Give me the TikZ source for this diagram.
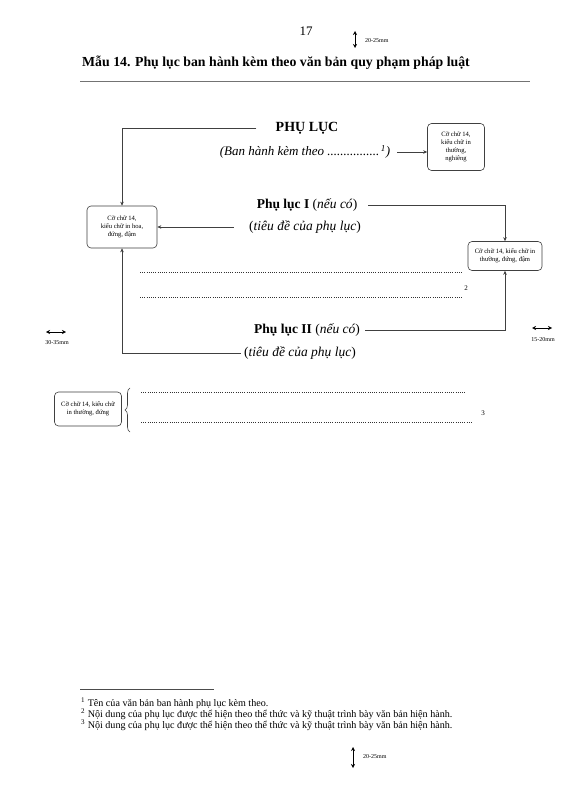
\documentclass[tikz,border=0pt]{standalone}
\usepackage{fontspec}
\setmainfont{Liberation Serif}
\usetikzlibrary{arrows.meta,decorations.pathreplacing}
\begin{document}
\begin{tikzpicture}[x=1pt,y=-1pt,
  ln/.style={draw=black!75,line width=0.6pt},
  arr/.style={ln,-{Stealth[length=4pt,width=3.5pt]}},
  dim/.style={draw=black,line width=0.5pt,{Stealth[length=4pt,width=4pt]}-{Stealth[length=4pt,width=4pt]}},
  dimlbl/.style={font=\fontsize{6}{7}\selectfont,inner sep=0pt},
  cbox/.style={draw=black!75,line width=0.6pt,rounded corners=4pt,align=center,
    font=\fontsize{6.6}{7.8}\selectfont,inner sep=1pt},
  head/.style={font=\fontsize{13.5}{16}\selectfont,inner sep=1pt},
  dots/.style={draw=black!80,line width=0.7pt,dash pattern=on 0.7pt off 1.5pt},
  fn/.style={font=\fontsize{10.1}{11}\selectfont,inner sep=0pt,anchor=west}
]
\useasboundingbox (0,0) rectangle (569,799);
\fill[white] (0,0) rectangle (569,799);

% page number and top margin marker
\node[font=\fontsize{13}{15}\selectfont,inner sep=0pt] (pn) at (306,31) {17};
\coordinate (ta) at (355,31); \coordinate (tb) at (355,48);
\draw[dim] (ta) -- (tb);
\node[dimlbl,anchor=west] (tl) at (365,41) {20-25mm};

% title
\node[font=\bfseries\fontsize{13.8}{16}\selectfont,anchor=west,inner sep=0pt] (title) at (82,63)
  {Mẫu 14. Phụ lục ban hành kèm theo văn bản quy phạm pháp luật};
\coordinate (r1) at (80,81); \coordinate (r2) at (530,81);
\draw[draw=black!55,line width=0.8pt] (r1) -- (r2);

% headings
\node[head,font=\bfseries\fontsize{14}{16}\selectfont] (plc) at (307,128) {PHỤ LỤC};
\node[head,font=\itshape\fontsize{13}{16}\selectfont] (ban) at (305,152)
  {(Ban hành kèm theo ................\textsuperscript{\,1})};
\node[head] (pl1) at (307,205) {\textbf{Phụ lục I} (\textit{nếu có})};
\node[head] (td1) at (305,227) {(\textit{tiêu đề của phụ lục})};
\node[head] (pl2) at (307,330) {\textbf{Phụ lục II} (\textit{nếu có})};
\node[head] (td2) at (300,353) {(\textit{tiêu đề của phụ lục})};

% boxes
\node[cbox,minimum width=57pt,minimum height=47pt] (b1) at (456,147)
  {Cỡ chữ 14,\\kiểu chữ in\\thường,\\nghiêng};
\node[cbox,minimum width=70pt,minimum height=42pt] (b2) at (122,227)
  {Cỡ chữ 14,\\kiểu chữ in hoa,\\đứng, đậm};
\node[cbox,minimum width=74pt,minimum height=29pt] (b3) at (505,256)
  {Cỡ chữ 14, kiểu chữ in\\thường, đứng, đậm};
\node[cbox,minimum width=67pt,minimum height=34pt] (b4) at (88,409)
  {Cỡ chữ 14, kiểu chữ\\in thường, đứng};

% connectors
\draw[arr] ([xshift=-18pt]plc.west) -| (b2.north);
\draw[arr] ([xshift=6pt]ban.east) -- (ban.east -| b1.west);
\draw[arr] ([xshift=10pt]pl1.east) -| (b3.north);
\draw[arr] ([xshift=-14pt]td1.west) -- (b2.east);
\draw[arr] ([xshift=4pt]pl2.east) -| (b3.south);
\draw[arr] ([xshift=-2pt]td2.west) -| (b2.south);

% dotted content lines
\coordinate (d1a) at (140,272); \coordinate (d1b) at (462,272);
\coordinate (d2a) at (140,297); \coordinate (d2b) at (462,297);
\draw[dots] (d1a) -- (d1b);
\draw[dots] (d2a) -- (d2b);
\node[font=\fontsize{7}{8}\selectfont,inner sep=0pt] (n2) at (466,288) {2};

% side margin markers
\coordinate (la) at (46,332); \coordinate (lb) at (66,332);
\draw[dim] (la) -- (lb);
\node[dimlbl] (ll) at (57,343) {30-35mm};
\coordinate (ra) at (532,328); \coordinate (rb) at (552,328);
\draw[dim] (ra) -- (rb);
\node[dimlbl] (rl) at (543,340) {15-20mm};

% bottom block with brace
\coordinate (bra) at (130,432); \coordinate (brb) at (130,388);
\draw[draw=black!75,line width=0.6pt,decorate,decoration={brace,amplitude=5pt}] (bra) -- (brb);
\coordinate (d3a) at (141,392); \coordinate (d3b) at (466,392);
\coordinate (d4a) at (141,422); \coordinate (d4b) at (472,422);
\draw[dots] (d3a) -- (d3b);
\draw[dots] (d4a) -- (d4b);
\node[font=\fontsize{7}{8}\selectfont,inner sep=0pt] (n3) at (483,413) {3};

% footnotes
\coordinate (f1) at (80,689); \coordinate (f2) at (214,689);
\draw[draw=black!70,line width=0.6pt] (f1) -- (f2);
\node[fn] (fn1) at (81,703) {\textsuperscript{1} Tên của văn bản ban hành phụ lục kèm theo.};
\node[fn] (fn2) at (81,714) {\textsuperscript{2} Nội dung của phụ lục được thể hiện theo thể thức và kỹ thuật trình bày văn bản hiện hành.};
\node[fn] (fn3) at (81,725) {\textsuperscript{3} Nội dung của phụ lục được thể hiện theo thể thức và kỹ thuật trình bày văn bản hiện hành.};

% bottom margin marker
\coordinate (ba) at (353,747); \coordinate (bb) at (353,768);
\draw[dim] (ba) -- (bb);
\node[dimlbl,anchor=west] (bl) at (363,757) {20-25mm};
\end{tikzpicture}
\end{document}
